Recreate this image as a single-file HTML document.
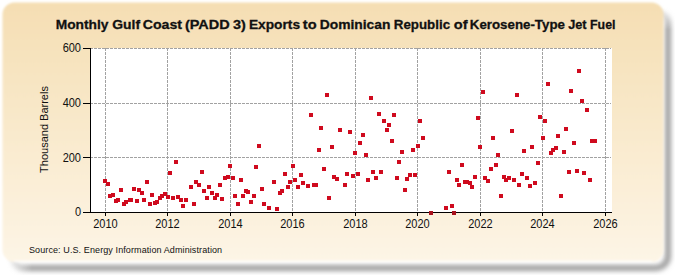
<!DOCTYPE html>
<html><head><meta charset="utf-8"><style>
html,body{margin:0;padding:0;background:#fff;width:675px;height:275px;overflow:hidden}
svg{position:absolute;left:0;top:0;font-family:"Liberation Sans",sans-serif}
</style></head><body>
<svg width="675" height="275" viewBox="0 0 675 275">
<defs>
<linearGradient id="bg" x1="0" y1="0" x2="0" y2="1">
<stop offset="0" stop-color="#F5DEB3"/>
<stop offset="1" stop-color="#FDF5E6"/>
</linearGradient>
<filter id="sh" x="-3%" y="-5%" width="106%" height="110%"><feGaussianBlur stdDeviation="2.5"/></filter>
<filter id="soft" x="-2%" y="-2%" width="104%" height="104%"><feGaussianBlur stdDeviation="0.9"/></filter>
<linearGradient id="gL" gradientUnits="userSpaceOnUse" x1="6" y1="0" x2="32" y2="0"><stop offset="0" stop-color="#000"/><stop offset="1" stop-color="#fff"/></linearGradient>
<linearGradient id="gT" gradientUnits="userSpaceOnUse" x1="0" y1="6" x2="0" y2="30"><stop offset="0" stop-color="#000"/><stop offset="1" stop-color="#fff"/></linearGradient>
<mask id="mL" maskUnits="userSpaceOnUse" x="0" y="0" width="675" height="275"><rect x="0" y="0" width="675" height="275" fill="url(#gL)"/></mask>
<mask id="mT" maskUnits="userSpaceOnUse" x="0" y="0" width="675" height="275"><rect x="0" y="0" width="675" height="275" fill="url(#gT)"/></mask>
</defs>
<g mask="url(#mL)"><g mask="url(#mT)"><rect x="11" y="11" width="657" height="257" rx="12" fill="none" stroke="#9C9C9C" stroke-width="6" filter="url(#sh)"/></g></g>
<g filter="url(#soft)"><rect x="2.5" y="2.5" width="661" height="259.5" rx="12" fill="url(#bg)"/><line x1="14" y1="261.3" x2="652" y2="261.3" stroke="#FFFDF9" stroke-width="1.6"/></g>
<rect x="90.5" y="48" width="521.5" height="164" fill="#fff"/>
<g stroke="#A2A2A2" stroke-width="1" stroke-dasharray="3,1" shape-rendering="crispEdges"><line x1="105.50" y1="48" x2="105.50" y2="212" /><line x1="167.50" y1="48" x2="167.50" y2="212" /><line x1="230.50" y1="48" x2="230.50" y2="212" /><line x1="292.50" y1="48" x2="292.50" y2="212" /><line x1="355.50" y1="48" x2="355.50" y2="212" /><line x1="417.50" y1="48" x2="417.50" y2="212" /><line x1="480.50" y1="48" x2="480.50" y2="212" /><line x1="542.50" y1="48" x2="542.50" y2="212" /><line x1="605.50" y1="48" x2="605.50" y2="212" /><line x1="90" y1="48.5" x2="611" y2="48.5" /><line x1="90" y1="103.5" x2="611" y2="103.5" /><line x1="90" y1="157.5" x2="611" y2="157.5" /></g>
<g stroke="#000" stroke-width="1" shape-rendering="crispEdges">
<line x1="90.5" y1="48" x2="90.5" y2="213"/><line x1="83" y1="212.5" x2="612" y2="212.5"/><line x1="105.50" y1="212" x2="105.50" y2="216" /><line x1="167.50" y1="212" x2="167.50" y2="216" /><line x1="230.50" y1="212" x2="230.50" y2="216" /><line x1="292.50" y1="212" x2="292.50" y2="216" /><line x1="355.50" y1="212" x2="355.50" y2="216" /><line x1="417.50" y1="212" x2="417.50" y2="216" /><line x1="480.50" y1="212" x2="480.50" y2="216" /><line x1="542.50" y1="212" x2="542.50" y2="216" /><line x1="605.50" y1="212" x2="605.50" y2="216" /><line x1="83" y1="48.5" x2="90" y2="48.5" /><line x1="83" y1="103.5" x2="90" y2="103.5" /><line x1="83" y1="157.5" x2="90" y2="157.5" /><line x1="83" y1="212.5" x2="90" y2="212.5" /></g>
<g fill="#CF0A1E" shape-rendering="crispEdges"><rect x="103" y="179" width="4" height="4"/><rect x="106" y="182" width="4" height="4"/><rect x="108" y="194" width="4" height="4"/><rect x="111" y="193" width="4" height="4"/><rect x="114" y="199" width="4" height="4"/><rect x="116" y="198" width="4" height="4"/><rect x="119" y="188" width="4" height="4"/><rect x="122" y="202" width="4" height="4"/><rect x="124" y="200" width="4" height="4"/><rect x="128" y="198" width="4" height="4"/><rect x="129" y="198" width="4" height="4"/><rect x="132" y="187" width="4" height="4"/><rect x="135" y="199" width="4" height="4"/><rect x="137" y="188" width="4" height="4"/><rect x="140" y="191" width="4" height="4"/><rect x="142" y="198" width="4" height="4"/><rect x="145" y="180" width="4" height="4"/><rect x="148" y="202" width="4" height="4"/><rect x="150" y="193" width="4" height="4"/><rect x="153" y="201" width="4" height="4"/><rect x="155" y="200" width="4" height="4"/><rect x="158" y="196" width="4" height="4"/><rect x="160" y="194" width="4" height="4"/><rect x="163" y="192" width="4" height="4"/><rect x="166" y="195" width="4" height="4"/><rect x="168" y="171" width="4" height="4"/><rect x="171" y="196" width="4" height="4"/><rect x="174" y="160" width="4" height="4"/><rect x="176" y="195" width="4" height="4"/><rect x="179" y="198" width="4" height="4"/><rect x="181" y="204" width="4" height="4"/><rect x="184" y="198" width="4" height="4"/><rect x="189" y="185" width="4" height="4"/><rect x="192" y="202" width="4" height="4"/><rect x="194" y="180" width="4" height="4"/><rect x="197" y="183" width="4" height="4"/><rect x="200" y="170" width="4" height="4"/><rect x="202" y="189" width="4" height="4"/><rect x="205" y="196" width="4" height="4"/><rect x="207" y="185" width="4" height="4"/><rect x="210" y="191" width="4" height="4"/><rect x="213" y="196" width="4" height="4"/><rect x="215" y="193" width="4" height="4"/><rect x="218" y="183" width="4" height="4"/><rect x="220" y="197" width="4" height="4"/><rect x="223" y="176" width="4" height="4"/><rect x="226" y="175" width="4" height="4"/><rect x="228" y="164" width="4" height="4"/><rect x="231" y="176" width="4" height="4"/><rect x="233" y="194" width="4" height="4"/><rect x="236" y="202" width="4" height="4"/><rect x="239" y="178" width="4" height="4"/><rect x="241" y="194" width="4" height="4"/><rect x="244" y="189" width="4" height="4"/><rect x="246" y="190" width="4" height="4"/><rect x="249" y="200" width="4" height="4"/><rect x="252" y="194" width="4" height="4"/><rect x="254" y="165" width="4" height="4"/><rect x="257" y="144" width="4" height="4"/><rect x="260" y="187" width="4" height="4"/><rect x="262" y="202" width="4" height="4"/><rect x="267" y="206" width="4" height="4"/><rect x="272" y="180" width="4" height="4"/><rect x="275" y="207" width="4" height="4"/><rect x="278" y="191" width="4" height="4"/><rect x="280" y="189" width="4" height="4"/><rect x="283" y="172" width="4" height="4"/><rect x="286" y="185" width="4" height="4"/><rect x="288" y="180" width="4" height="4"/><rect x="291" y="164" width="4" height="4"/><rect x="293" y="178" width="4" height="4"/><rect x="296" y="185" width="4" height="4"/><rect x="299" y="173" width="4" height="4"/><rect x="301" y="181" width="4" height="4"/><rect x="306" y="184" width="4" height="4"/><rect x="309" y="113" width="4" height="4"/><rect x="312" y="183" width="4" height="4"/><rect x="314" y="183" width="4" height="4"/><rect x="317" y="148" width="4" height="4"/><rect x="319" y="126" width="4" height="4"/><rect x="322" y="167" width="4" height="4"/><rect x="325" y="93" width="4" height="4"/><rect x="327" y="196" width="4" height="4"/><rect x="330" y="145" width="4" height="4"/><rect x="332" y="175" width="4" height="4"/><rect x="335" y="177" width="4" height="4"/><rect x="338" y="128" width="4" height="4"/><rect x="343" y="183" width="4" height="4"/><rect x="345" y="172" width="4" height="4"/><rect x="348" y="130" width="4" height="4"/><rect x="351" y="174" width="4" height="4"/><rect x="353" y="151" width="4" height="4"/><rect x="356" y="172" width="4" height="4"/><rect x="358" y="141" width="4" height="4"/><rect x="361" y="133" width="4" height="4"/><rect x="364" y="153" width="4" height="4"/><rect x="366" y="178" width="4" height="4"/><rect x="369" y="96" width="4" height="4"/><rect x="371" y="170" width="4" height="4"/><rect x="374" y="176" width="4" height="4"/><rect x="377" y="112" width="4" height="4"/><rect x="379" y="170" width="4" height="4"/><rect x="382" y="119" width="4" height="4"/><rect x="385" y="128" width="4" height="4"/><rect x="387" y="123" width="4" height="4"/><rect x="390" y="139" width="4" height="4"/><rect x="392" y="113" width="4" height="4"/><rect x="395" y="176" width="4" height="4"/><rect x="397" y="160" width="4" height="4"/><rect x="400" y="150" width="4" height="4"/><rect x="403" y="188" width="4" height="4"/><rect x="405" y="177" width="4" height="4"/><rect x="408" y="173" width="4" height="4"/><rect x="411" y="148" width="4" height="4"/><rect x="413" y="173" width="4" height="4"/><rect x="416" y="144" width="4" height="4"/><rect x="418" y="119" width="4" height="4"/><rect x="421" y="136" width="4" height="4"/><rect x="429" y="211" width="4" height="4" fill="#A8101C"/><rect x="444" y="206" width="4" height="4"/><rect x="447" y="170" width="4" height="4"/><rect x="450" y="204" width="4" height="4"/><rect x="452" y="211" width="4" height="4" fill="#A8101C"/><rect x="455" y="178" width="4" height="4"/><rect x="457" y="183" width="4" height="4"/><rect x="460" y="163" width="4" height="4"/><rect x="463" y="180" width="4" height="4"/><rect x="465" y="180" width="4" height="4"/><rect x="468" y="181" width="4" height="4"/><rect x="470" y="185" width="4" height="4"/><rect x="473" y="175" width="4" height="4"/><rect x="476" y="116" width="4" height="4"/><rect x="478" y="145" width="4" height="4"/><rect x="481" y="90" width="4" height="4"/><rect x="483" y="176" width="4" height="4"/><rect x="486" y="179" width="4" height="4"/><rect x="489" y="167" width="4" height="4"/><rect x="491" y="136" width="4" height="4"/><rect x="494" y="163" width="4" height="4"/><rect x="496" y="153" width="4" height="4"/><rect x="499" y="194" width="4" height="4"/><rect x="502" y="175" width="4" height="4"/><rect x="504" y="178" width="4" height="4"/><rect x="507" y="176" width="4" height="4"/><rect x="510" y="129" width="4" height="4"/><rect x="512" y="178" width="4" height="4"/><rect x="515" y="93" width="4" height="4"/><rect x="517" y="183" width="4" height="4"/><rect x="520" y="172" width="4" height="4"/><rect x="522" y="149" width="4" height="4"/><rect x="525" y="176" width="4" height="4"/><rect x="528" y="184" width="4" height="4"/><rect x="530" y="145" width="4" height="4"/><rect x="533" y="181" width="4" height="4"/><rect x="536" y="161" width="4" height="4"/><rect x="538" y="115" width="4" height="4"/><rect x="541" y="136" width="4" height="4"/><rect x="543" y="119" width="4" height="4"/><rect x="546" y="82" width="4" height="4"/><rect x="549" y="151" width="4" height="4"/><rect x="551" y="148" width="4" height="4"/><rect x="554" y="146" width="4" height="4"/><rect x="556" y="134" width="4" height="4"/><rect x="559" y="194" width="4" height="4"/><rect x="562" y="150" width="4" height="4"/><rect x="564" y="127" width="4" height="4"/><rect x="567" y="170" width="4" height="4"/><rect x="569" y="89" width="4" height="4"/><rect x="572" y="141" width="4" height="4"/><rect x="575" y="169" width="4" height="4"/><rect x="577" y="69" width="4" height="4"/><rect x="580" y="99" width="4" height="4"/><rect x="582" y="171" width="4" height="4"/><rect x="585" y="108" width="4" height="4"/><rect x="588" y="178" width="4" height="4"/><rect x="590" y="139" width="4" height="4"/><rect x="593" y="139" width="4" height="4"/></g>
<g font-weight="bold" font-size="13.5" fill="#111" stroke="#111" stroke-width="0.3"><text x="55.7" y="28.7" textLength="52.8" lengthAdjust="spacingAndGlyphs">Monthly</text><text x="112.3" y="28.7" textLength="27.8" lengthAdjust="spacingAndGlyphs">Gulf</text><text x="142.7" y="28.7" textLength="39.4" lengthAdjust="spacingAndGlyphs">Coast</text><text x="184.9" y="28.7" textLength="44.8" lengthAdjust="spacingAndGlyphs">(PADD</text><text x="232.9" y="28.7" textLength="12.8" lengthAdjust="spacingAndGlyphs">3)</text><text x="248.9" y="28.7" textLength="51.2" lengthAdjust="spacingAndGlyphs">Exports</text><text x="302.8" y="28.7" textLength="13.8" lengthAdjust="spacingAndGlyphs">to</text><text x="319.7" y="28.7" textLength="70.8" lengthAdjust="spacingAndGlyphs">Dominican</text><text x="393.8" y="28.7" textLength="56.3" lengthAdjust="spacingAndGlyphs">Republic</text><text x="453.8" y="28.7" textLength="13.8" lengthAdjust="spacingAndGlyphs">of</text><text x="469.8" y="28.7" textLength="95.1" lengthAdjust="spacingAndGlyphs">Kerosene-Type</text><text x="568.2" y="28.7" textLength="18.4" lengthAdjust="spacingAndGlyphs">Jet</text><text x="590.0" y="28.7" textLength="25.5" lengthAdjust="spacingAndGlyphs">Fuel</text></g>
<g font-size="12.3" fill="#111"><text x="93.26" y="228" textLength="24.48" lengthAdjust="spacingAndGlyphs">2010</text><text x="155.26" y="228" textLength="24.48" lengthAdjust="spacingAndGlyphs">2012</text><text x="218.26" y="228" textLength="24.48" lengthAdjust="spacingAndGlyphs">2014</text><text x="280.26" y="228" textLength="24.48" lengthAdjust="spacingAndGlyphs">2016</text><text x="343.26" y="228" textLength="24.48" lengthAdjust="spacingAndGlyphs">2018</text><text x="405.26" y="228" textLength="24.48" lengthAdjust="spacingAndGlyphs">2020</text><text x="468.26" y="228" textLength="24.48" lengthAdjust="spacingAndGlyphs">2022</text><text x="530.26" y="228" textLength="24.48" lengthAdjust="spacingAndGlyphs">2024</text><text x="593.26" y="228" textLength="24.48" lengthAdjust="spacingAndGlyphs">2026</text><text x="62.64" y="52" textLength="18.36" lengthAdjust="spacingAndGlyphs">600</text><text x="62.64" y="107" textLength="18.36" lengthAdjust="spacingAndGlyphs">400</text><text x="62.64" y="161.5" textLength="18.36" lengthAdjust="spacingAndGlyphs">200</text><text x="74.88" y="216" textLength="6.12" lengthAdjust="spacingAndGlyphs">0</text></g>
<text transform="translate(48,129.5) rotate(-90)" text-anchor="middle" font-size="11" fill="#111">Thousand Barrels</text>
<text x="29" y="253" font-size="9" letter-spacing="0.1" fill="#111">Source: U.S. Energy Information Administration</text>
</svg>
</body></html>
